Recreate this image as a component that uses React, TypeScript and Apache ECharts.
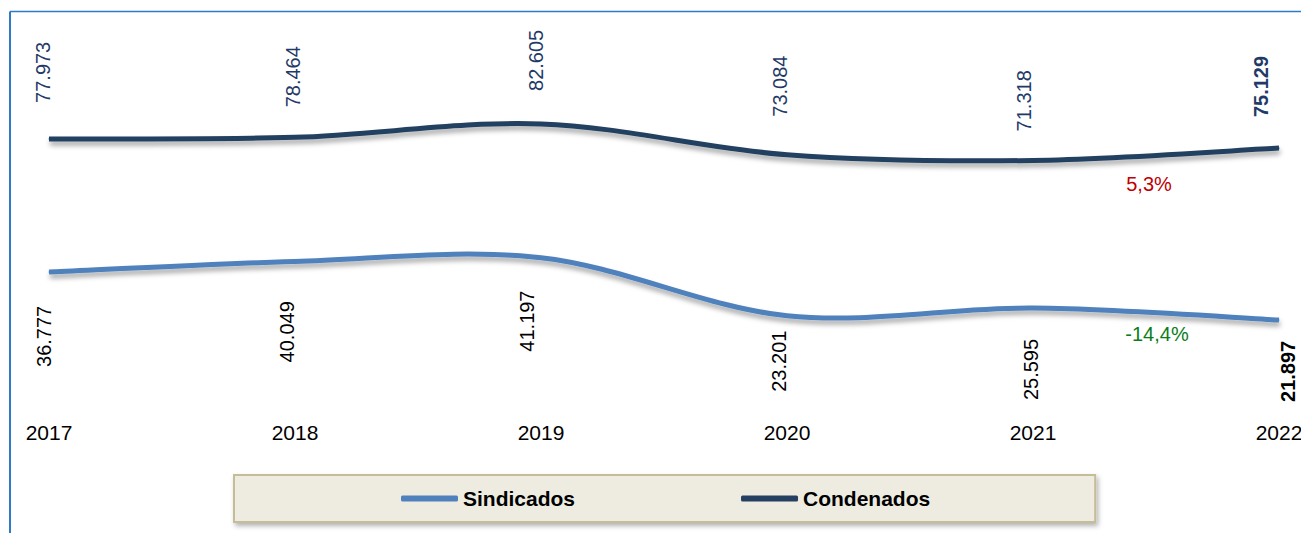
import React, { useEffect, useRef } from "react";
import * as echarts from "echarts";

const years = ["2017", "2018", "2019", "2020", "2021", "2022"];
const sindicados = [36777, 40049, 41197, 23201, 25595, 21897];
const condenados = [77973, 78464, 82605, 73084, 71318, 75129];

// label nudges (screen px from the point to the start of the vertical text)
const condNudgeX = [-6.5, -2.5, -5, -7, -9, -18];
const condNudgeY = [-36, -30, -33, -38, -29, -31];
const sindNudgeX = [-5, -8, -14, -8, -2, 9];
const sindNudgeY = [95, 101, 94, 76, 92, 82];

const FONT = 'Arial, "Liberation Sans", Helvetica, sans-serif';
const fmt = (v: number) => v.toLocaleString("de-DE");
const pct = (a: number, b: number) =>
  (((b - a) / a) * 100).toFixed(1).replace(".", ",") + "%";

const SIND_COLOR = "#4F81BD";
const COND_COLOR = "#243F60";

// Excel-like (Catmull-Rom, tension 1/6) smooth path through projected points
function smoothPath(pts: number[][]) {
  const n = pts.length;
  const P = (i: number) => pts[Math.max(0, Math.min(n - 1, i))];
  let d = `M${pts[0][0]},${pts[0][1]}`;
  for (let i = 0; i < n - 1; i++) {
    const p0 = P(i - 1), p1 = P(i), p2 = P(i + 1), p3 = P(i + 2);
    const c1x = p1[0] + (p2[0] - p0[0]) / 6;
    const c1y = p1[1] + (p2[1] - p0[1]) / 6;
    const c2x = p2[0] - (p3[0] - p1[0]) / 6;
    const c2y = p2[1] - (p3[1] - p1[1]) / 6;
    d += ` C${c1x},${c1y} ${c2x},${c2y} ${p2[0]},${p2[1]}`;
  }
  return d;
}

export default function App() {
  const ref = useRef<HTMLDivElement>(null);
  useEffect(() => {
    if (!ref.current) return;
    const chart = echarts.init(ref.current, null, { renderer: "svg" });
    const last = years.length - 1;
    const mkData = (
      vals: number[],
      nx: number[],
      ny: number[],
      color: string
    ) =>
      vals.map((v, i) => ({
        value: v,
        label: {
          show: true,
          position: "inside",
          rotate: 90,
          align: "left",
          verticalAlign: "middle",
          offset: [-ny[i], nx[i]],
          formatter: fmt(v),
          color,
          fontSize: 20,
          fontFamily: FONT,
          fontWeight: i === last ? "bold" : "normal",
        },
      }));
    const curve = (name: string, vals: number[], color: string) => ({
      name,
      type: "custom",
      silent: true,
      z: 1,
      data: vals.map((v, i) => [i, v]),
      renderItem: (params: any, api: any) => {
        if (params.dataIndex !== 0) return null;
        const pts = vals.map((v, i) => api.coord([i, v]));
        return {
          type: "path",
          shape: { pathData: smoothPath(pts) },
          style: {
            fill: "none",
            stroke: color,
            lineWidth: 5,
            shadowColor: "rgba(0,0,0,0.35)",
            shadowBlur: 5,
            shadowOffsetY: 4,
            shadowOffsetX: 1,
          },
        };
      },
    });
    chart.setOption({
      animation: false,
      backgroundColor: "#ffffff",
      grid: {
        left: 49,
        right: 22,
        top: 67.8,
        bottom: 142.3,
        containLabel: false,
        outerBoundsMode: "none",
      },
      xAxis: {
        type: "category",
        data: years,
        boundaryGap: false,
        axisLine: { show: false },
        axisTick: { show: false },
        splitLine: { show: false },
        axisLabel: {
          color: "#000000",
          fontSize: 21,
          fontFamily: FONT,
          margin: 31,
        },
      },
      yAxis: {
        type: "value",
        min: 0,
        max: 100000,
        show: false,
        splitLine: { show: false },
      },
      legend: {
        left: 234,
        top: 475,
        padding: [13, 165, 13, 167],
        itemGap: 166,
        itemWidth: 57,
        itemHeight: 6,
        icon: "roundRect",
        backgroundColor: "#EEECE1",
        borderColor: "#C4BD97",
        borderWidth: 2,
        shadowColor: "rgba(0,0,0,0.3)",
        shadowBlur: 5,
        shadowOffsetX: 2,
        shadowOffsetY: 3,
        textStyle: {
          color: "#000000",
          fontSize: 21,
          fontWeight: "bold",
          fontFamily: FONT,
        },
        data: ["Sindicados", "Condenados"],
      },
      series: [
        curve("curveSindicados", sindicados, SIND_COLOR),
        curve("curveCondenados", condenados, COND_COLOR),
        {
          name: "Sindicados",
          type: "line",
          z: 3,
          symbol: "circle",
          symbolSize: 1,
          itemStyle: { color: SIND_COLOR },
          lineStyle: { color: SIND_COLOR, width: 0, opacity: 0 },
          data: mkData(sindicados, sindNudgeX, sindNudgeY, "#000000"),
        },
        {
          name: "Condenados",
          type: "line",
          z: 3,
          symbol: "circle",
          symbolSize: 1,
          itemStyle: { color: COND_COLOR },
          lineStyle: { color: COND_COLOR, width: 0, opacity: 0 },
          data: mkData(condenados, condNudgeX, condNudgeY, "#1F3A68"),
        },
      ],
      graphic: [
        {
          type: "line",
          shape: { x1: 10, y1: 533, x2: 10, y2: 11.5 },
          style: { stroke: "#2F7BC5", lineWidth: 2 },
        },
        {
          type: "line",
          shape: { x1: 10, y1: 11.5, x2: 1301, y2: 11.5 },
          style: { stroke: "#2F7BC5", lineWidth: 1.5 },
        },
        {
          type: "text",
          x: 1149,
          y: 184,
          style: {
            text: pct(condenados[last - 1], condenados[last]),
            fill: "#C00000",
            fontSize: 20,
            fontFamily: FONT,
            textAlign: "center",
            textVerticalAlign: "middle",
          },
        },
        {
          type: "text",
          x: 1157,
          y: 334,
          style: {
            text: pct(sindicados[last - 1], sindicados[last]),
            fill: "#0A7D1A",
            fontSize: 20,
            fontFamily: FONT,
            textAlign: "center",
            textVerticalAlign: "middle",
          },
        },
      ],
    });
    return () => chart.dispose();
  }, []);
  return (
    <div
      ref={ref}
      style={{ position: "fixed", left: 0, top: 0, width: 1301, height: 533 }}
    />
  );
}
